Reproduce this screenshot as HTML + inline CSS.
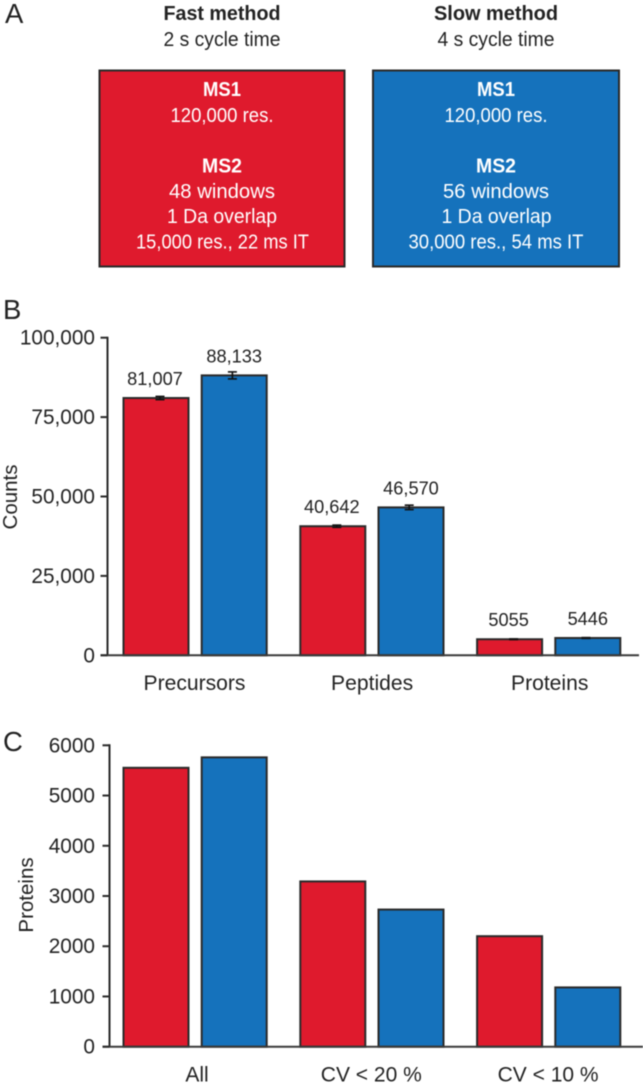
<!DOCTYPE html>
<html lang="en">
<head>
<meta charset="utf-8">
<title>Fast and slow method comparison</title>
<style>
html,body{margin:0;padding:0;background:#fff;}
svg{display:block;filter:blur(0.45px);}
text{font-family:"Liberation Sans",sans-serif;fill:#222;}
.head{font-size:20px;text-anchor:middle;}
.b{font-weight:bold;}
.w{fill:#fff;font-size:20px;text-anchor:middle;}
.panel{font-size:27.5px;fill:#222;}
</style>
</head>
<body>
<svg id="figure" xmlns="http://www.w3.org/2000/svg" width="643" height="1085" viewBox="0 0 643 1085">
  <g>
    <text class="panel" x="5" y="23">A</text>
    <text class="head b" x="222" y="20" textLength="117" lengthAdjust="spacingAndGlyphs">Fast method</text>
    <text class="head" x="222" y="46" textLength="117" lengthAdjust="spacingAndGlyphs">2 s cycle time</text>
    <text class="head b" x="496" y="20" textLength="124" lengthAdjust="spacingAndGlyphs">Slow method</text>
    <text class="head" x="496" y="46" textLength="117" lengthAdjust="spacingAndGlyphs">4 s cycle time</text>

    <rect x="99.5" y="70.5" width="245" height="196" fill="#df1a2d" stroke="#2a2a2a" stroke-width="2"/>
    <text class="w b" x="222" y="96" textLength="38" lengthAdjust="spacingAndGlyphs">MS1</text>
    <text class="w" x="222" y="122" textLength="103" lengthAdjust="spacingAndGlyphs">120,000 res.</text>
    <text class="w b" x="222" y="172.5" textLength="40" lengthAdjust="spacingAndGlyphs">MS2</text>
    <text class="w" x="222" y="198" textLength="106" lengthAdjust="spacingAndGlyphs">48 windows</text>
    <text class="w" x="222" y="223" textLength="110" lengthAdjust="spacingAndGlyphs">1 Da overlap</text>
    <text class="w" x="222.5" y="248.5" textLength="173" lengthAdjust="spacingAndGlyphs">15,000 res., 22 ms IT</text>

    <rect x="373" y="70.5" width="246" height="196" fill="#1572bc" stroke="#2a2a2a" stroke-width="2"/>
    <text class="w b" x="496" y="96" textLength="38" lengthAdjust="spacingAndGlyphs">MS1</text>
    <text class="w" x="496" y="122" textLength="103" lengthAdjust="spacingAndGlyphs">120,000 res.</text>
    <text class="w b" x="496" y="172.5" textLength="40" lengthAdjust="spacingAndGlyphs">MS2</text>
    <text class="w" x="496" y="198" textLength="106" lengthAdjust="spacingAndGlyphs">56 windows</text>
    <text class="w" x="496.5" y="223" textLength="110" lengthAdjust="spacingAndGlyphs">1 Da overlap</text>
    <text class="w" x="496" y="248.5" textLength="175" lengthAdjust="spacingAndGlyphs">30,000 res., 54 ms IT</text>
  </g>
  <text class="panel" x="3" y="319">B</text>
  <text class="panel" x="3" y="751">C</text>
  <g id="chart-b"></g>
  <g id="chart-c"></g>
</svg>
<script>
const countCategories = ['Precursors', 'Peptides', 'Proteins'];
const countTicks = [0, 25000, 50000, 75000, 100000];
const countTickLabels = ['0', '25,000', '50,000', '75,000', '100,000'];
const countFast = [81007, 40642, 5055];
const countSlow = [88133, 46570, 5446];
const countFastErr = [500, 350, 100];
const countSlowErr = [1100, 700, 130];
const countFastLabels = ['81,007', '40,642', '5055'];
const countSlowLabels = ['88,133', '46,570', '5446'];

const proteinCategories = ['All', 'CV < 20 %', 'CV < 10 %'];
const proteinTicks = [0, 1000, 2000, 3000, 4000, 5000, 6000];
const proteinFast = [5552, 3290, 2200];
const proteinSlow = [5760, 2730, 1180];

const NS = 'http://www.w3.org/2000/svg';
const FAST_COLOR = '#df1a2d';
const SLOW_COLOR = '#1572bc';
const INK = '#2a2a2a';

function make(parent, tag, attrs, content) {
  const el = document.createElementNS(NS, tag);
  for (const k in attrs) el.setAttribute(k, attrs[k]);
  if (content !== undefined) el.textContent = content;
  parent.appendChild(el);
  return el;
}

// Shared horizontal layout for both bar charts
function barLeft(cat, series) {
  return 123.5 + cat * 176.8 + series * 78.2;
}
const BAR_W = 65;

// Axis functions
function yCounts(v) {
  return 655.3 - v * (317.6 / 100000);
}
function yProteins(v) {
  return 1046.7 - v * (301.4 / 6000);
}

function drawAxes(g, y, ticks, labels, axisX, tickX, baselineEnd, maxV) {
  const top = y(maxV);
  const axis = make(g, 'line', {x1: axisX, x2: axisX, y1: top - 1, y2: y(0), stroke: INK, 'stroke-width': 2});
  
  
  const base = make(g, 'line', {x1: tickX, x2: baselineEnd, y1: y(0), y2: y(0), stroke: '#3a3a3a', 'stroke-width': 2});
  
  
  ticks.forEach(function (t, i) {
    const mark = make(g, 'line', {x1: tickX, x2: axisX, y1: y(t), y2: y(t), stroke: INK, 'stroke-width': 2});
    
    
    const label = make(g, 'text', {x: 95, y: y(t) + 7, 'text-anchor': 'end', 'font-size': 20.8}, labels[i]);
    
    
  });
}

function drawBars(g, y, values, series, color, seriesName) {
  values.forEach(function (v, i) {
    const bar = make(g, 'rect', {x: barLeft(i, series), y: y(v), width: BAR_W, height: y(0) - y(v), fill: color, stroke: INK, 'stroke-width': 2});
    
    
  });
}

function drawErrors(g, y, values, errs, series, shift, seriesName) {
  values.forEach(function (v, i) {
    const cx = barLeft(i, series) + BAR_W / 2 + shift;
    const eg = make(g, 'g', {stroke: '#111', 'stroke-width': 1.6});
    
    
    make(eg, 'line', {x1: cx, x2: cx, y1: y(v + errs[i]), y2: y(v - errs[i])});
    make(eg, 'line', {x1: cx - 4.5, x2: cx + 4.5, y1: y(v + errs[i]), y2: y(v + errs[i])});
    make(eg, 'line', {x1: cx - 4.5, x2: cx + 4.5, y1: y(v - errs[i]), y2: y(v - errs[i])});
  });
}

function drawValueLabels(g, y, values, errs, labels, series, seriesName, shift) {
  values.forEach(function (v, i) {
    const cx = barLeft(i, series) + BAR_W / 2 + shift;
    const t = make(g, 'text', {x: cx, y: y(v) - 13, 'text-anchor': 'middle', 'font-size': 18.2}, labels[i]);
    
    
  });
}

function drawCategories(g, cats, baseline, size, nudge) {
  cats.forEach(function (c, i) {
    const cx = barLeft(i, 0) + 71 + nudge(i);
    const t = make(g, 'text', {x: cx, y: baseline, 'text-anchor': 'middle', 'font-size': size}, c);
    
    
  });
}

function drawYTitle(g, text, x, cy) {
  const t = make(g, 'text', {x: x, y: cy, 'text-anchor': 'middle', 'font-size': 20.5, transform: 'rotate(-90 ' + x + ' ' + cy + ')'}, text);
  
  
}

const chartB = document.getElementById('chart-b');
drawBars(chartB, yCounts, countFast, 0, FAST_COLOR, 'fast');
drawBars(chartB, yCounts, countSlow, 1, SLOW_COLOR, 'slow');
drawAxes(chartB, yCounts, countTicks, countTickLabels, 107.5, 100.5, 639, 100000);
drawErrors(chartB, yCounts, countFast, countFastErr, 0, 4, 'fast');
drawErrors(chartB, yCounts, countSlow, countSlowErr, 1, -1.8, 'slow');
drawValueLabels(chartB, yCounts, countFast, countFastErr, countFastLabels, 0, 'fast', -1);
drawValueLabels(chartB, yCounts, countSlow, countSlowErr, countSlowLabels, 1, 'slow', 0);
drawCategories(chartB, countCategories, 690, 21.1, function (i) { return i * 0.8; });
drawYTitle(chartB, 'Counts', 17, 497);

const chartC = document.getElementById('chart-c');
drawBars(chartC, yProteins, proteinFast, 0, FAST_COLOR, 'fast');
drawBars(chartC, yProteins, proteinSlow, 1, SLOW_COLOR, 'slow');
drawAxes(chartC, yProteins, proteinTicks, proteinTicks.map(String), 109.5, 102.5, 643, 6000);
drawCategories(chartC, proteinCategories, 1081.5, 21, function (i) { return i === 0 ? 2.5 : 0; });
drawYTitle(chartC, 'Proteins', 33, 895);
</script>
</body>
</html>
